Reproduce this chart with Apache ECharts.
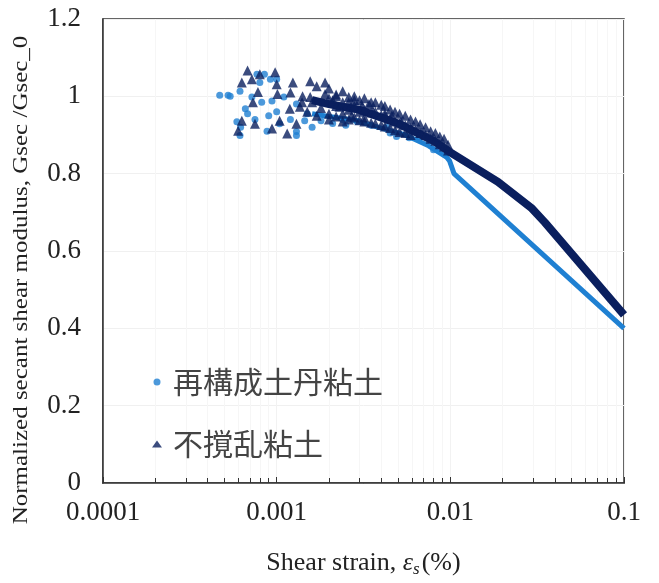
<!DOCTYPE html>
<html>
<head>
<meta charset="utf-8">
<script src="https://cdn.jsdelivr.net/npm/echarts@6/dist/echarts.min.js"></script>
<style>
  html, body { margin: 0; padding: 0; background: #fff; }
  #chart { width: 659px; height: 583px; }
</style>
</head>
<body>
<div id="chart"></div>
<script>
// series names
const seriesNames = ["再構成土丹粘土", "不撹乱粘土"];

// y tick labels
const yTicks = ["0", "0.2", "0.4", "0.6", "0.8", "1", "1.2"];

// scattered points, reconstituted clay (light blue dots)
const lightScatter = [
  [0.00047, 1.003], [0.000525, 1.003], [0.00054, 1.0], [0.000615, 1.013],
  [0.00077, 1.057], [0.00085, 1.057], [0.0008, 1.036], [0.00092, 1.044],
  [0.001, 1.044], [0.00072, 0.998], [0.00082, 0.985], [0.00094, 0.988],
  [0.00066, 0.968], [0.00068, 0.955], [0.00059, 0.934], [0.000615, 0.899],
  [0.0009, 0.95], [0.001, 0.96], [0.00104, 0.929], [0.0013, 0.909],
  [0.0013, 0.899], [0.00145, 0.937], [0.0015, 0.955], [0.0018, 0.937],
  [0.0013, 0.98], [0.0011, 0.998], [0.0043, 0.92], [0.0049, 0.896],
  [0.0067, 0.896], [0.00062, 0.92], [0.00075, 0.94], [0.00088, 0.91],
  [0.0012, 0.94], [0.0016, 0.92], [0.0021, 0.93], [0.0025, 0.925], [0.0029, 0.935],
  [0.0035, 0.925], [0.0045, 0.905], [0.0058, 0.893], [0.008, 0.862], [0.0024, 0.94]
];

// dense band + tail, reconstituted clay
const lightBand = [
  [0.0016, 0.955], [0.002, 0.948], [0.0028, 0.938], [0.004, 0.918],
  [0.0055, 0.9], [0.0075, 0.872], [0.0095, 0.843], [0.0099, 0.833],
  [0.0105, 0.80], [0.1, 0.40]
];

// scattered points, undisturbed clay (navy triangles)
const darkScatter = [
  [0.00068, 1.067], [0.00063, 1.036], [0.00072, 1.044], [0.0008, 1.057],
  [0.00098, 1.062], [0.001, 1.031], [0.00101, 1.006], [0.00078, 1.011],
  [0.00073, 0.985], [0.00063, 0.937], [0.0006, 0.911], [0.00075, 0.929],
  [0.00094, 0.917], [0.00104, 0.937], [0.00115, 0.904], [0.00124, 1.036],
  [0.00156, 1.039], [0.00119, 0.968], [0.00136, 0.973], [0.00141, 1.0],
  [0.00156, 0.998], [0.0017, 1.026], [0.0019, 1.036], [0.0019, 1.006],
  [0.0022, 1.0], [0.0024, 1.013], [0.0023, 0.973], [0.0013, 0.929],
  [0.0015, 0.96], [0.0016, 0.985], [0.0018, 0.97], [0.0021, 0.99],
  [0.0026, 0.985], [0.0028, 0.99], [0.0031, 0.975], [0.0034, 0.98],
  [0.0036, 0.96], [0.0042, 0.955], [0.0046, 0.95], [0.0052, 0.935],
  [0.006, 0.915], [0.0068, 0.905], [0.0027, 0.95], [0.0032, 0.945],
  [0.0017, 0.95], [0.002, 0.955], [0.0014, 0.985], [0.0012, 1.01],
  [0.002, 1.02], [0.002, 0.995], [0.002, 0.94],
  [0.0022, 1.005], [0.0022, 0.975], [0.0022, 0.948],
  [0.0024, 0.985], [0.0024, 0.955], [0.0024, 0.935],
  [0.0026, 0.998], [0.0026, 0.965], [0.0026, 0.94],
  [0.0028, 1.0], [0.0028, 0.975], [0.0028, 0.945],
  [0.003, 0.99], [0.003, 0.96], [0.003, 0.938],
  [0.0032, 0.995], [0.0032, 0.965], [0.0032, 0.935],
  [0.0035, 0.985], [0.0035, 0.958], [0.0035, 0.932],
  [0.0037, 0.985], [0.0037, 0.96], [0.0037, 0.93],
  [0.004, 0.978], [0.004, 0.952], [0.004, 0.926],
  [0.0042, 0.975], [0.0042, 0.95], [0.0042, 0.922],
  [0.0045, 0.966], [0.0045, 0.942], [0.0045, 0.918],
  [0.0048, 0.96], [0.0048, 0.935], [0.0048, 0.912],
  [0.0051, 0.955], [0.0051, 0.93], [0.0051, 0.908],
  [0.0055, 0.95], [0.0055, 0.925], [0.0055, 0.905],
  [0.0059, 0.94], [0.0059, 0.918], [0.0059, 0.9],
  [0.0063, 0.935], [0.0063, 0.912], [0.0067, 0.928], [0.0067, 0.905],
  [0.0072, 0.92], [0.0072, 0.9], [0.0077, 0.91], [0.0077, 0.89],
  [0.0082, 0.905], [0.0082, 0.885], [0.0087, 0.896], [0.0087, 0.876],
  [0.0092, 0.89], [0.0092, 0.87], [0.0097, 0.875], [0.0097, 0.86]
];

// dense band + tail, undisturbed clay
const darkBand = [
  [0.0016, 0.99], [0.002, 0.98], [0.003, 0.965], [0.005, 0.93],
  [0.008, 0.885], [0.01, 0.855], [0.0188, 0.779], [0.0295, 0.71],
  [0.035, 0.674], [0.1, 0.435]
];

const lightColor = "#1f80d2";
const darkColor = "#0a1f5e";
const serif = "'Liberation Serif', 'DejaVu Serif', serif";

const chart = echarts.init(document.getElementById("chart"));

const option = {
  animation: false,
  grid: {
    left: 103, right: 35, top: 19, bottom: 94,
    show: true, borderColor: "#333", borderWidth: 1.5
  },
  legend: {
    data: seriesNames,
    orient: "vertical",
    left: 147,
    top: 362,
    itemWidth: 10,
    itemHeight: 7,
    itemGap: 32,
    textStyle: {
      fontFamily: "'Noto Sans CJK JP', sans-serif",
      fontSize: 30,
      color: "#444",
      padding: [0, 0, 0, 6]
    }
  },
  xAxis: {
    type: "log",
    logBase: 10,
    min: 0.0001,
    max: 0.1,
    axisLine: { lineStyle: { color: "#333", width: 1.5 } },
    axisTick: { inside: true, length: 6, lineStyle: { color: "#333" } },
    minorTick: { show: true, splitNumber: 9, length: 5, lineStyle: { color: "#333" } },
    splitLine: { show: true, lineStyle: { color: "#f2f2f2" } },
    minorSplitLine: { show: true, lineStyle: { color: "#f6f6f6" } },
    axisLabel: {
      margin: 16,
      fontFamily: serif,
      fontSize: 27,
      color: "#222",
      formatter: v => String(+v.toPrecision(1))
    },
    name: "{a|Shear strain, }{e|ε}{s|s}{a|(%)}",
    nameLocation: "middle",
    nameGap: 66,
    nameTextStyle: {
      rich: {
        a: { fontFamily: serif, fontSize: 26, color: "#222" },
        e: { fontFamily: serif, fontSize: 26, fontStyle: "italic", color: "#222" },
        s: { fontFamily: serif, fontSize: 17, fontStyle: "italic", color: "#222", padding: [12, 2, 0, 0] }
      }
    }
  },
  yAxis: {
    type: "value",
    min: 0,
    max: 1.2,
    interval: 0.2,
    axisLine: { show: true, lineStyle: { color: "#333", width: 1.5 } },
    axisTick: { show: false },
    splitLine: { show: true, lineStyle: { color: "#f0f0f0" } },
    axisLabel: {
      margin: 22,
      fontFamily: serif,
      fontSize: 27,
      color: "#222",
      formatter: (v) => yTicks[Math.round(v / 0.2)]
    }
  },
  graphic: [{
    type: "text",
    x: 22,
    y: 280,
    rotation: Math.PI / 2,
    scaleX: 1.25,
    style: {
      text: "Normalized secant shear modulus, Gsec /Gsec_0",
      fontFamily: serif,
      fontSize: 20,
      fill: "#222",
      align: "center",
      verticalAlign: "middle"
    }
  }],
  series: [
    {
      name: seriesNames[0] + "_band",
      type: "line",
      data: lightBand,
      symbol: "none",
      lineStyle: { color: lightColor, width: 5 },
      z: 2
    },
    {
      name: seriesNames[0],
      type: "scatter",
      data: lightScatter,
      symbol: "circle",
      symbolSize: 7,
      itemStyle: { color: lightColor },
      z: 3
    },
    {
      name: seriesNames[1] + "_band",
      type: "line",
      data: darkBand,
      symbol: "none",
      lineStyle: { color: darkColor, width: 8 },
      z: 4
    },
    {
      name: seriesNames[1],
      type: "scatter",
      data: darkScatter,
      symbol: "triangle",
      symbolSize: 10,
      itemStyle: { color: darkColor },
      z: 5
    }
  ]
};

chart.setOption(option);
</script>
</body>
</html>
